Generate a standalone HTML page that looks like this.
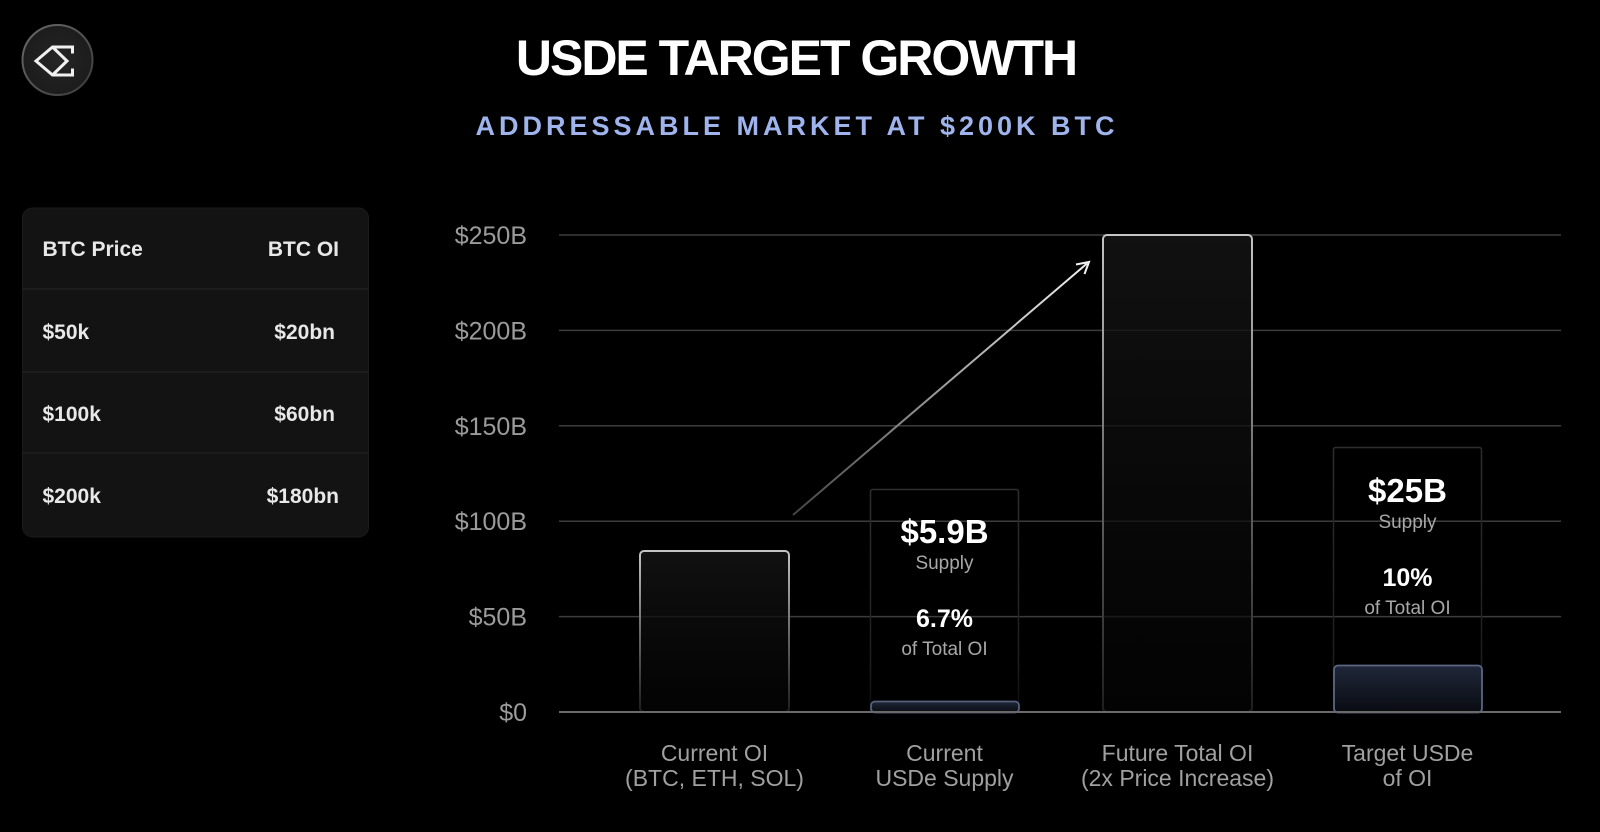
<!DOCTYPE html>
<html>
<head>
<meta charset="utf-8">
<style>
  html,body{margin:0;padding:0;background:#000;}
  body{width:1600px;height:832px;overflow:hidden;}
  svg{display:block;}
  text{font-family:"Liberation Sans",sans-serif;}
</style>
</head>
<body>
<svg width="1600" height="832" viewBox="0 0 1600 832" xmlns="http://www.w3.org/2000/svg">
  <defs>
    <linearGradient id="barStroke" x1="0" y1="0" x2="0" y2="1">
      <stop offset="0" stop-color="#c4c4c4"/>
      <stop offset="0.5" stop-color="#6a6a6a"/>
      <stop offset="1" stop-color="#1e1e1e"/>
    </linearGradient>
    <linearGradient id="barFill" x1="0" y1="0" x2="0" y2="1">
      <stop offset="0" stop-color="#141414" stop-opacity="0.85"/>
      <stop offset="1" stop-color="#050505" stop-opacity="0.6"/>
    </linearGradient>
    <linearGradient id="boxStroke" x1="0" y1="0" x2="0" y2="1">
      <stop offset="0" stop-color="#2e2e2e"/>
      <stop offset="0.8" stop-color="#1e1e1e"/>
      <stop offset="1" stop-color="#0a0a0a"/>
    </linearGradient>
    <linearGradient id="navyFill" x1="0" y1="0" x2="0" y2="1">
      <stop offset="0" stop-color="#1f2739"/>
      <stop offset="1" stop-color="#090b11"/>
    </linearGradient>
    <linearGradient id="arrowGrad" x1="793" y1="515" x2="1089" y2="262" gradientUnits="userSpaceOnUse">
      <stop offset="0" stop-color="#444"/>
      <stop offset="1" stop-color="#f2f2f2"/>
    </linearGradient>
    <radialGradient id="logoFill" cx="0.5" cy="0.5" r="0.5">
      <stop offset="0" stop-color="#262626"/>
      <stop offset="1" stop-color="#1c1c1c"/>
    </radialGradient>
    <linearGradient id="logoRim" x1="0" y1="0" x2="1" y2="1">
      <stop offset="0" stop-color="#6a6a6a"/>
      <stop offset="1" stop-color="#3a3a3a"/>
    </linearGradient>
  </defs>

  <!-- Logo -->
  <circle cx="57.5" cy="60" r="35" fill="url(#logoFill)" stroke="url(#logoRim)" stroke-width="2"/>
  <path d="M72.5,53.5 V47 H52.5 L36,61 L52.5,75 H72.5 V68.5 M52.5,47 L67,61 L52.5,75" fill="none" stroke="#f0f0f0" stroke-width="3" stroke-linejoin="miter"/>

  <!-- Title -->
  <text x="796" y="75" text-anchor="middle" font-size="50" font-weight="bold" fill="#ffffff" letter-spacing="-2">USDE TARGET GROWTH</text>
  <text x="797" y="135" text-anchor="middle" font-size="27" font-weight="bold" fill="#9fb4ec" letter-spacing="4">ADDRESSABLE MARKET AT $200K BTC</text>

  <!-- Table -->
  <rect x="22.5" y="208" width="346" height="329" rx="10" fill="#131313" stroke="#1b1b1b" stroke-width="1"/>
  <line x1="23" y1="289" x2="368" y2="289" stroke="#1f1f1f" stroke-width="1.5"/>
  <line x1="23" y1="372" x2="368" y2="372" stroke="#1f1f1f" stroke-width="1.5"/>
  <line x1="23" y1="453" x2="368" y2="453" stroke="#1f1f1f" stroke-width="1.5"/>
  <g font-size="21" font-weight="bold" fill="#e8e8e8">
    <text x="42.5" y="256">BTC Price</text>
    <text x="339" y="256" text-anchor="end">BTC OI</text>
    <text x="42.5" y="339">$50k</text>
    <text x="335" y="339" text-anchor="end">$20bn</text>
    <text x="42.5" y="421">$100k</text>
    <text x="335" y="421" text-anchor="end">$60bn</text>
    <text x="42.5" y="503">$200k</text>
    <text x="339" y="503" text-anchor="end">$180bn</text>
  </g>

  <!-- Y axis labels -->
  <g font-size="25" fill="#9b9b9b" text-anchor="end">
    <text x="527" y="244">$250B</text>
    <text x="527" y="339.5">$200B</text>
    <text x="527" y="435">$150B</text>
    <text x="527" y="530">$100B</text>
    <text x="527" y="625.5">$50B</text>
    <text x="527" y="721">$0</text>
  </g>

  <!-- Gridlines -->
  <g stroke="#3c3c3c" stroke-width="1.5">
    <line x1="559" y1="235" x2="1561" y2="235"/>
    <line x1="559" y1="330.4" x2="1561" y2="330.4"/>
    <line x1="559" y1="425.8" x2="1561" y2="425.8"/>
    <line x1="559" y1="521.2" x2="1561" y2="521.2"/>
    <line x1="559" y1="616.6" x2="1561" y2="616.6"/>
  </g>

  <!-- Bar 1: Current OI -->
  <rect x="640" y="551" width="149" height="161" rx="4" fill="url(#barFill)" stroke="url(#barStroke)" stroke-width="2"/>

  <!-- Box 2 outline + small bar -->
  <rect x="870.5" y="489.5" width="148" height="222" rx="2" fill="none" stroke="url(#boxStroke)" stroke-width="1.5"/>
  <rect x="871" y="701.5" width="148" height="11" rx="4" fill="url(#navyFill)" stroke="#56627c" stroke-width="1.8"/>

  <!-- Bar 3: Future Total OI -->
  <rect x="1103" y="235" width="149" height="477" rx="4" fill="url(#barFill)" stroke="url(#barStroke)" stroke-width="2"/>

  <!-- Box 4 outline + small bar -->
  <rect x="1333.5" y="447.5" width="148" height="264" rx="2" fill="none" stroke="url(#boxStroke)" stroke-width="1.5"/>
  <rect x="1334" y="665.5" width="148" height="47" rx="4" fill="url(#navyFill)" stroke="#5a6783" stroke-width="1.8"/>

  <!-- Baseline -->
  <line x1="559" y1="712" x2="1561" y2="712" stroke="#6a6a6a" stroke-width="2"/>

  <!-- Arrow -->
  <line x1="793" y1="515" x2="1087" y2="263.5" stroke="url(#arrowGrad)" stroke-width="2"/>
  <path d="M1076,264.5 L1089,262 L1084.5,274" fill="none" stroke="#f2f2f2" stroke-width="2" stroke-linejoin="miter"/>

  <!-- Box 2 text -->
  <g text-anchor="middle">
    <text x="944.5" y="543" font-size="33" font-weight="bold" fill="#ffffff">$5.9B</text>
    <text x="944.5" y="569" font-size="19" fill="#a8a8a8">Supply</text>
    <text x="944.5" y="627" font-size="25" font-weight="bold" fill="#ffffff">6.7%</text>
    <text x="944.5" y="655" font-size="19" fill="#a8a8a8">of Total OI</text>

    <text x="1407.5" y="502" font-size="33" font-weight="bold" fill="#ffffff">$25B</text>
    <text x="1407.5" y="528" font-size="19" fill="#a8a8a8">Supply</text>
    <text x="1407.5" y="586" font-size="25" font-weight="bold" fill="#ffffff">10%</text>
    <text x="1407.5" y="614" font-size="19" fill="#a8a8a8">of Total OI</text>
  </g>

  <!-- Category labels -->
  <g text-anchor="middle" font-size="23" fill="#a0a0a0">
    <text x="714.5" y="761">Current OI</text>
    <text x="714.5" y="786">(BTC, ETH, SOL)</text>
    <text x="944.5" y="761">Current</text>
    <text x="944.5" y="786">USDe Supply</text>
    <text x="1177.5" y="761">Future Total OI</text>
    <text x="1177.5" y="786">(2x Price Increase)</text>
    <text x="1407.5" y="761">Target USDe</text>
    <text x="1407.5" y="786">of OI</text>
  </g>
</svg>
</body>
</html>
